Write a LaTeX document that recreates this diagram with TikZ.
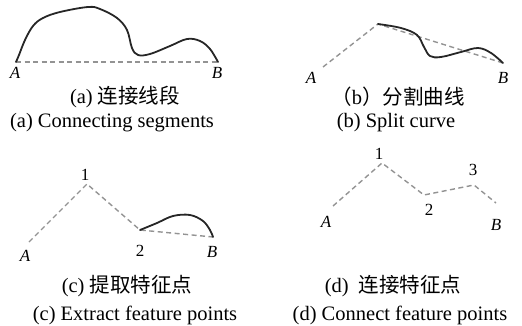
\documentclass[tikz,border=0pt]{standalone}
\usepackage{fontspec}
\setmainfont{Liberation Serif}
\newfontfamily\cjk{Noto Sans CJK SC}
\begin{document}
\begin{tikzpicture}[x=1pt,y=-1pt,
  dashline/.style={draw=gray!85, dash pattern=on 5pt off 3.5pt, line width=1.4pt},
  curveline/.style={draw=black!85, line width=1.8pt, line cap=round, line join=round},
  lbl/.style={font=\fontsize{17}{17}\selectfont\itshape, inner sep=0pt},
  num/.style={font=\fontsize{17}{17}\selectfont, inner sep=0pt},
  capt/.style={font=\fontsize{20.5}{22}\selectfont, inner sep=0pt}]
\useasboundingbox (0,0) rectangle (522,326);
% (a)
\coordinate (aA) at (16,62);
\coordinate (aB) at (218,62);
\draw[dashline] (aA) -- (aB);
\draw[curveline] plot[smooth, tension=0.6] coordinates {(aA) (19,55) (25,40) (33,26) (43,18) (60,12) (88,7) (100,9) (117,18) (127,30) (132,48) (138,55) (150,54) (170,46) (187,39) (200,41) (210,49) (aB)};
\node[lbl] (laA) at (15,73) {A};
\node[lbl] (laB) at (217,73) {B};
\node[capt] (ca1) at (125,97) {(a) {\cjk 连接线段}};
\node[capt] (ca2) at (112,123) {(a) Connecting segments};
% (b)
\coordinate (bA) at (323,67);
\coordinate (bP) at (378,24);
\coordinate (bB) at (503,63);
\draw[dashline] (bA) -- (bP) -- (bB);
\draw[curveline] plot[smooth, tension=0.6] coordinates {(bP) (401,28) (417,35) (424,47) (430,56) (441,57) (461,52) (478,48) (491,53) (bB)};
\node[lbl] (lbA) at (311,78) {A};
\node[lbl] (lbB) at (503,78) {B};
\node[capt] (cb1) at (398,97) {{\cjk （}b{\cjk ）分割曲线}};
\node[capt] (cb2) at (396,123) {(b) Split curve};
% (c)
\coordinate (cA) at (29,242);
\coordinate (c1) at (87,184);
\coordinate (c2) at (140,230);
\coordinate (cB) at (213,237);
\draw[dashline] (cA) -- (c1) -- (c2) -- (cB);
\draw[curveline] plot[smooth, tension=0.6] coordinates {(c2) (157,223) (173,216) (190,215) (203,221) (210,230) (cB)};
\node[num] (lc1) at (85,175) {1};
\node[lbl] (lcA) at (25,256) {A};
\node[num] (lc2) at (140,251) {2};
\node[lbl] (lcB) at (212,252) {B};
\node[capt] (cc1) at (127,286) {(c) {\cjk 提取特征点}};
\node[capt] (cc2) at (135,315) {(c) Extract feature points};
% (d)
\coordinate (dA) at (333,206);
\coordinate (d1) at (382,163);
\coordinate (d2) at (424,195);
\coordinate (d3) at (474,185);
\coordinate (dB) at (496,203);
\draw[dashline] (dA) -- (d1) -- (d2) -- (d3) -- (dB);
\node[num] (ld1) at (379,154) {1};
\node[lbl] (ldA) at (326,222) {A};
\node[num] (ld2) at (429,210) {2};
\node[num] (ld3) at (473,170) {3};
\node[lbl] (ldB) at (496,225) {B};
\node[capt] (cd1) at (393,286) {(d)\hspace{10pt}{\cjk 连接特征点}};
\node[capt] (cd2) at (400,315) {(d) Connect feature points};
\end{tikzpicture}
\end{document}
